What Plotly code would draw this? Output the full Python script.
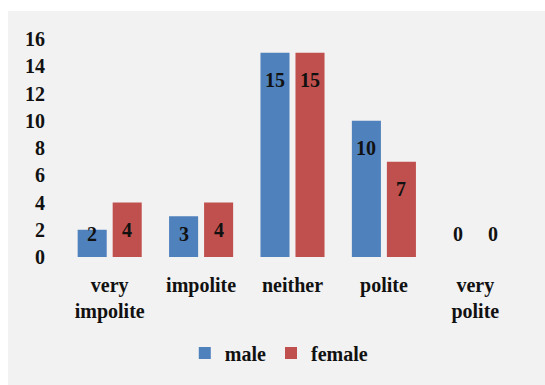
import plotly.graph_objects as go

categories = ["very<br>impolite", "impolite", "neither", "polite", "very<br>polite"]
male = [2, 3, 15, 10, 0]
female = [4, 4, 15, 7, 0]
y_ticks = [0, 2, 4, 6, 8, 10, 12, 14, 16]

BLUE = "#4f81bd"
RED = "#c0504d"
FONT = dict(family="Liberation Serif, Times New Roman, DejaVu Serif, serif",
            size=20, color="#111111", weight="bold")

fig = go.Figure()
fig.add_bar(x=list(range(len(categories))), y=male, name="male",
            marker=dict(color=BLUE, line=dict(width=0)))
fig.add_bar(x=list(range(len(categories))), y=female, name="female",
            marker=dict(color=RED, line=dict(width=0)))

annotations = []
for series, off in ((male, -0.1915), (female, 0.1915)):
    for i, v in enumerate(series):
        annotations.append(dict(
            x=i + off, y=max(v - 2.0, 1.7), xref="x", yref="y",
            text=str(v), showarrow=False,
            font=FONT, xanchor="center", yanchor="middle"))

# white outer strips (left and top), grey chart area elsewhere
left_x = (8 - 64) / 457.0
top_y = (218 + 28) / 218.0
fig.update_layout(
    width=545, height=385,
    margin=dict(l=64, r=24, t=39, b=128),
    paper_bgcolor="#f2f2f2",
    plot_bgcolor="rgba(0,0,0,0)",
    barmode="group", bargap=0.234, bargroupgap=0.17,
    font=FONT,
    showlegend=True,
    legend=dict(orientation="h", x=0.47, xanchor="center", y=-0.44, yanchor="middle",
                font=FONT, bgcolor="rgba(0,0,0,0)", traceorder="normal"),
    annotations=annotations,
    shapes=[
        dict(type="rect", xref="paper", yref="paper",
             x0=-0.5, x1=left_x, y0=-1.0, y1=1.5,
             fillcolor="white", line=dict(width=0), layer="below"),
        dict(type="rect", xref="paper", yref="paper",
             x0=-0.5, x1=1.5, y0=top_y, y1=1.5,
             fillcolor="white", line=dict(width=0), layer="below"),
    ],
)
fig.update_xaxes(
    range=[-0.5, 4.5], tickmode="array",
    tickvals=list(range(len(categories))),
    ticktext=categories,
    showgrid=False, zeroline=False, showline=False,
    ticks="outside", ticklen=10, tickcolor="rgba(0,0,0,0)",
    tickfont=FONT,
)
fig.update_yaxes(
    range=[0, 16], tickmode="array", tickvals=y_ticks,
    ticktext=[str(t) for t in y_ticks],
    showgrid=False, zeroline=False, showline=False,
    ticks="outside", ticklen=14, tickcolor="rgba(0,0,0,0)",
    tickfont=FONT,
)

fig.write_html("out.html")
